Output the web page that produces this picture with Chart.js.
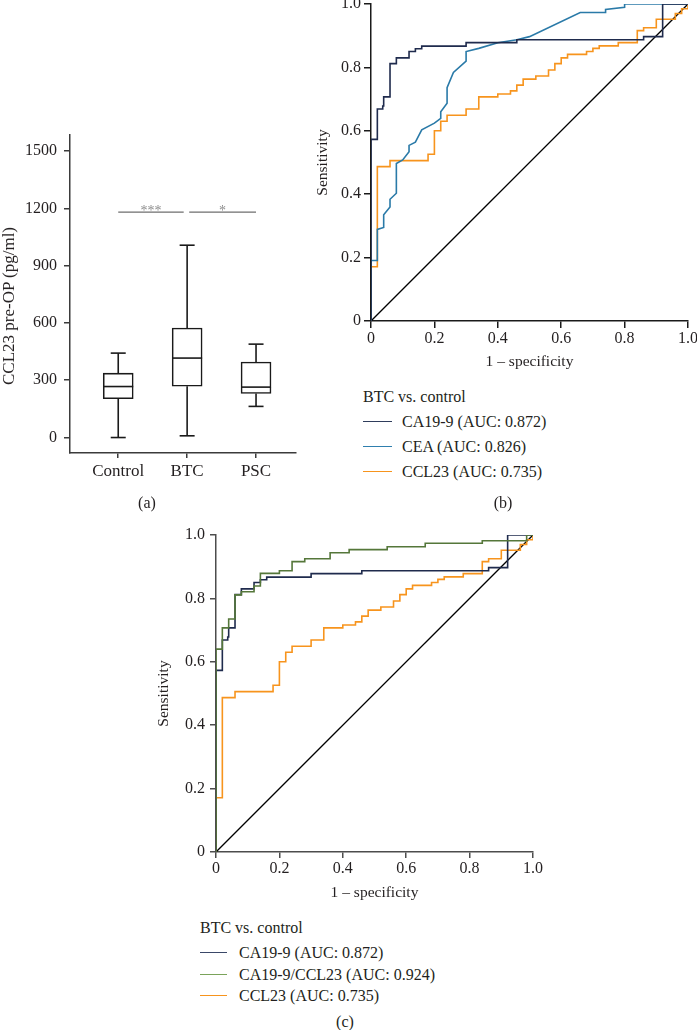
<!DOCTYPE html>
<html>
<head>
<meta charset="utf-8">
<script src="https://cdn.jsdelivr.net/npm/chart.js@4.4.1/dist/chart.umd.min.js"></script>
<style>
  html, body { margin: 0; padding: 0; background: #fff; }
  #page {
    position: relative; width: 697px; height: 1030px; overflow: hidden;
    font-family: 'Liberation Serif', 'DejaVu Serif', serif; color: #231f20;
  }
  canvas { position: absolute; }
  .txt { position: absolute; font-size: 16px; line-height: 20px; white-space: nowrap; }
  .key { position: absolute; height: 0; border-top: 1.5px solid; }
</style>
</head>
<body>
<div id="page">
  <canvas id="boxChart" width="305" height="400" style="left:0;top:120px"></canvas>
  <canvas id="rocB" width="387" height="385" style="left:310px;top:0"></canvas>
  <canvas id="rocC" width="395" height="390" style="left:150px;top:515px"></canvas>
</div>
<script>
'use strict';

// ── Data: box plot (a) ─────────────────────────────────────────
const groupNames = ['Control', 'BTC', 'PSC'];
const groupPos   = [1, 2, 3];
const boxMin     = [0, 9, 163];
const boxQ1      = [203, 269, 231];
const boxMedian  = [267, 416, 264];
const boxQ3      = [337, 573, 395];
const boxMax     = [442, 1007, 489];
const boxTicks   = [0, 300, 600, 900, 1200, 1500];

const sigFrom   = [1, 2.03];
const sigTo     = [1.95, 3];
const sigLevel  = [1180, 1180];
const sigLabels = ['***', '*'];

// ── Data: ROC curves ───────────────────────────────────────────
const rocTicks  = [0, 0.2, 0.4, 0.6, 0.8, 1.0];
const rocLabels = ['0', '0.2', '0.4', '0.6', '0.8', '1.0'];

const diagFpr = [0, 1];
const diagTpr = [0, 1];

const ca199Fpr = [0, 0, 0.02, 0.037, 0.04, 0.06, 0.08, 0.12, 0.14, 0.16, 0.30, 0.46, 0.86, 0.92, 1.0];
const ca199Tpr = [0, 0.573, 0.669, 0.678, 0.707, 0.812, 0.830, 0.850, 0.859, 0.867, 0.878, 0.887, 0.897, 1.0, 1.0];

const ceaFpr = [0, 0, 0.02, 0.02, 0.04, 0.04, 0.06, 0.06, 0.08, 0.08, 0.10, 0.12, 0.12, 0.14, 0.16,
                0.20, 0.22, 0.22, 0.24, 0.24, 0.26, 0.30, 0.30, 0.34, 0.40, 0.46, 0.50, 0.66, 0.74,
                0.74, 0.80, 0.80, 1.0];
const ceaTpr = [0, 0.191, 0.191, 0.289, 0.295, 0.335, 0.36, 0.384, 0.403, 0.497, 0.508, 0.534, 0.554, 0.564, 0.603,
                0.624, 0.639, 0.66, 0.687, 0.736, 0.784, 0.82, 0.85, 0.86, 0.878, 0.887, 0.897, 0.973, 0.973,
                0.983, 0.99, 1.0, 1.0];

const ccl23Fpr = [0, 0, 0.02, 0.06, 0.18, 0.20, 0.22, 0.24, 0.30, 0.34, 0.40, 0.44, 0.46, 0.48, 0.52,
                  0.56, 0.58, 0.60, 0.62, 0.68, 0.70, 0.72, 0.78, 0.84, 0.86, 0.90, 0.96, 0.98, 1.0];
const ccl23Tpr = [0, 0.171, 0.487, 0.506, 0.526, 0.60, 0.63, 0.649, 0.669, 0.707, 0.716, 0.726, 0.744, 0.763, 0.773,
                  0.792, 0.812, 0.83, 0.841, 0.85, 0.86, 0.868, 0.878, 0.916, 0.925, 0.952, 0.97, 0.985, 1.0];

const comboFpr = [0, 0, 0.02, 0.04, 0.06, 0.08, 0.12, 0.14, 0.20, 0.24, 0.28, 0.36, 0.42, 0.54, 0.66, 0.84, 0.98, 1.0];
const comboTpr = [0, 0.640, 0.707, 0.735, 0.811, 0.821, 0.839, 0.879, 0.887, 0.916, 0.925, 0.944, 0.954, 0.963, 0.974, 0.982, 1.0, 1.0];

const legendTitle   = 'BTC vs. control';
const legendBLabels = ['CA19-9 (AUC: 0.872)', 'CEA (AUC: 0.826)', 'CCL23 (AUC: 0.735)'];
const legendCLabels = ['CA19-9 (AUC: 0.872)', 'CA19-9/CCL23 (AUC: 0.924)', 'CCL23 (AUC: 0.735)'];

// ── Style ──────────────────────────────────────────────────────
const TEXT  = '#231f20';
const INK   = '#1a1a1a';
const NAVY  = '#1f2b4d';
const TEAL  = '#2a7aa8';
const ORNG  = '#f7941d';
const OLIVE = '#55773a';

Chart.defaults.font.family = "'Liberation Serif', 'DejaVu Serif', serif";
Chart.defaults.font.size = 16;
Chart.defaults.color = TEXT;

function makeAxis({ min, max, ticks, labels, size, horizontal, color, tickLength, padding, fontSize,
                    title, titlePad, titleSize }) {
  return {
    type: 'linear', min, max, offset: false,
    border: { display: true, color, width: 1.5 },
    grid: { display: true, drawOnChartArea: false, drawTicks: true, tickLength, color, lineWidth: 1.5, offset: false },
    ticks: { padding, color: TEXT, autoSkip: false, maxRotation: 0, minRotation: 0,
             font: { size: fontSize || 16 }, callback: (v, i) => labels[i] },
    title: title
      ? { display: true, text: title, color: TEXT, padding: titlePad, font: { size: titleSize || 15.5 } }
      : { display: false },
    afterBuildTicks: s => { s.ticks = ticks.map(v => ({ value: v })); },
    afterFit: s => {
      if (horizontal) s.height = size; else s.width = size;
      s.paddingLeft = s.paddingRight = s.paddingTop = s.paddingBottom = 0;
    },
  };
}

const baseOptions = pad => ({
  responsive: false,
  animation: false,
  layout: { padding: pad },
  plugins: { legend: { display: false }, tooltip: { enabled: false } },
});

// ── (a) box plot ───────────────────────────────────────────────
const boxWhiskers = {
  id: 'boxWhiskers',
  afterDatasetsDraw(chart) {
    const { ctx, scales: { x, y } } = chart;
    const bars = chart.getDatasetMeta(0).data;
    const seg = (x1, y1, x2, y2) => { ctx.beginPath(); ctx.moveTo(x1, y1); ctx.lineTo(x2, y2); ctx.stroke(); };
    ctx.save();
    ctx.strokeStyle = INK;
    ctx.lineWidth = 1.6;
    groupPos.forEach((pos, i) => {
      const cx   = x.getPixelForValue(pos);
      const half = bars[i].width / 2;
      const cap  = half / 2;
      const yMin = y.getPixelForValue(boxMin[i]);
      const yMax = y.getPixelForValue(boxMax[i]);
      seg(cx, y.getPixelForValue(boxQ1[i]), cx, yMin);
      seg(cx - cap, yMin, cx + cap, yMin);
      seg(cx, y.getPixelForValue(boxQ3[i]), cx, yMax);
      seg(cx - cap, yMax, cx + cap, yMax);
      const yMed = y.getPixelForValue(boxMedian[i]);
      seg(cx - half, yMed, cx + half, yMed);
    });
    // significance bars
    ctx.strokeStyle = '#6e6e6e';
    ctx.lineWidth = 1.2;
    ctx.fillStyle = '#8c8c8c';
    ctx.font = "14px 'Liberation Serif'";
    ctx.textAlign = 'center';
    ctx.textBaseline = 'alphabetic';
    sigFrom.forEach((from, i) => {
      const py = y.getPixelForValue(sigLevel[i]);
      const x1 = x.getPixelForValue(from);
      const x2 = x.getPixelForValue(sigTo[i]);
      seg(x1, py, x2, py);
      ctx.fillText(sigLabels[i], (x1 + x2) / 2, py + 2.5);
    });
    ctx.restore();
  },
};

new Chart(document.getElementById('boxChart'), {
  type: 'bar',
  data: {
    datasets: [{
      data: groupPos.map((p, i) => ({ x: p, y: [boxQ1[i], boxQ3[i]] })),
      backgroundColor: '#ffffff',
      borderColor: INK,
      borderWidth: 1.6,
      borderSkipped: false,
      barThickness: 30,
    }],
  },
  options: {
    ...baseOptions({ left: 0, top: 15, right: 9, bottom: 0 }),
    scales: {
      x: makeAxis({ min: 0.3, max: 3.58, ticks: groupPos, labels: groupNames, size: 67, horizontal: true,
                    color: '#3b3b3b', tickLength: 5, padding: 3, fontSize: 17 }),
      y: makeAxis({ min: -81, max: 1584, ticks: boxTicks, labels: boxTicks.map(String), size: 70, horizontal: false,
                    color: '#3b3b3b', tickLength: 6, padding: 7, fontSize: 16 }),
    },
  },
  plugins: [boxWhiskers],
});

// ── ROC charts ─────────────────────────────────────────────────
function rocLine(xs, ys, color, stepped, width) {
  return {
    data: xs.map((x, i) => ({ x, y: ys[i] })),
    borderColor: color,
    borderWidth: width || 1.6,
    pointRadius: 0,
    tension: 0,
    fill: false,
    stepped,
  };
}

function rocChart(id, datasets, pad, dims) {
  return new Chart(document.getElementById(id), {
    type: 'line',
    data: { datasets },
    options: {
      ...baseOptions(pad),
      scales: {
        x: makeAxis({ min: 0, max: 1, ticks: rocTicks, labels: rocLabels, size: dims.xSize, horizontal: true,
                      color: dims.color, tickLength: dims.xTick, padding: dims.xPad,
                      title: '1 \u2013 specificity', titlePad: { bottom: dims.xTitlePad } }),
        y: makeAxis({ min: 0, max: 1, ticks: rocTicks, labels: rocLabels, size: dims.ySize, horizontal: false,
                      color: dims.color, tickLength: dims.yTick, padding: dims.yPad,
                      title: 'Sensitivity', titlePad: { top: dims.yTitlePad } }),
      },
    },
  });
}

rocChart('rocB', [
  rocLine(ca199Fpr, ca199Tpr, NAVY, true),
  rocLine(ceaFpr, ceaTpr, TEAL, false),
  rocLine(ccl23Fpr, ccl23Tpr, ORNG, true),
  rocLine(diagFpr, diagTpr, '#000000', false, 1.3),
], { left: 0, top: 4, right: 9, bottom: 0 },
{ xSize: 64, ySize: 61, color: '#1a1a1a', xTick: 7, xPad: 1, yTick: 7, yPad: 3, xTitlePad: 14, yTitlePad: 4 });

rocChart('rocC', [
  rocLine(comboFpr, comboTpr, OLIVE, true),
  rocLine(ca199Fpr, ca199Tpr, NAVY, true),
  rocLine(ccl23Fpr, ccl23Tpr, ORNG, true),
  rocLine(diagFpr, diagTpr, '#000000', false, 1.3),
], { left: 0, top: 20, right: 12, bottom: 0 },
{ xSize: 53, ySize: 66, color: '#4d4d4d', xTick: 6, xPad: 1, yTick: 6, yPad: 5, xTitlePad: 3, yTitlePad: 5 });

// ── Legends and panel labels (HTML text) ───────────────────────
const page = document.getElementById('page');

function addText(text, left, cy, center) {
  const el = document.createElement('div');
  el.className = 'txt';
  el.textContent = text;
  el.style.top = (cy - 10) + 'px';
  el.style.left = left + 'px';
  if (center) el.style.transform = 'translateX(-50%)';
  page.appendChild(el);
  return el;
}

function addLegend(x, titleY, rowYs, labels, colors, keyWidth, textX) {
  addText(legendTitle, x, titleY);
  labels.forEach((label, i) => {
    const key = document.createElement('div');
    key.className = 'key';
    key.style.left = x + 'px';
    key.style.width = keyWidth + 'px';
    key.style.top = (rowYs[i] - 0.75) + 'px';
    key.style.borderColor = colors[i];
    page.appendChild(key);
    addText(label, textX, rowYs[i]);
  });
}

addLegend(363, 397, [422, 447, 472], legendBLabels, ['#2f3d5c', '#2f7fae', ORNG], 29, 402);
addLegend(200, 928, [953, 974.5, 996], legendCLabels, ['#3a4868', '#7aa35a', ORNG], 27, 239);

// y title of (a), set off-centre from its axis as in the figure
const yTitleA = addText('CCL23 pre-OP (pg/ml)', 9, 306, false);
yTitleA.style.fontSize = '17px';
yTitleA.style.transform = 'translate(-50%, 0) rotate(-90deg)';
yTitleA.style.transformOrigin = '50% 50%';

addText('(a)', 147, 503, true);
addText('(b)', 503, 503, true);
addText('(c)', 345, 1022, true);
</script>
</body>
</html>
